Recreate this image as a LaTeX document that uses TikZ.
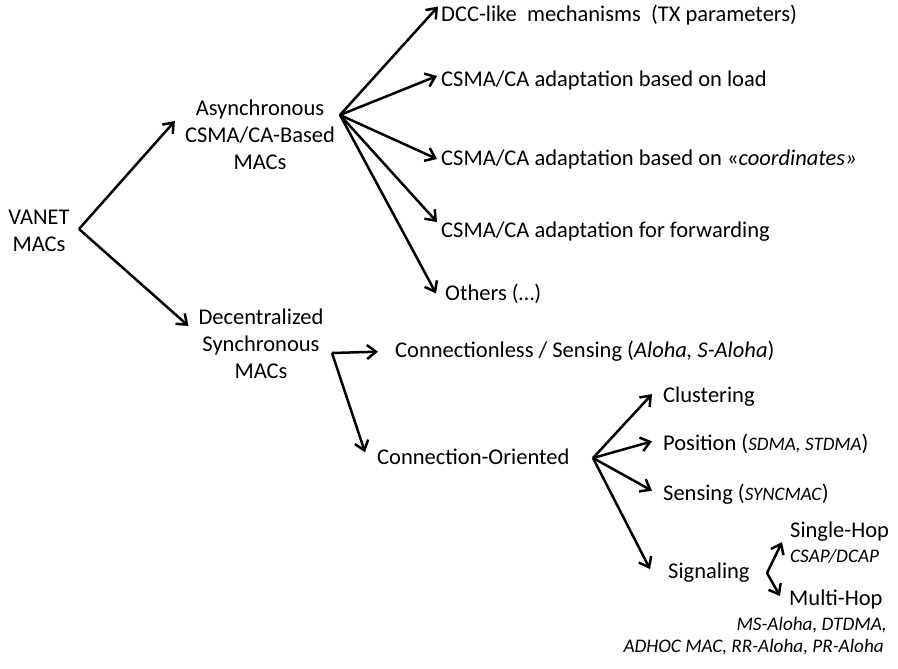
\documentclass[tikz,border=0pt]{standalone}
\usepackage{fontspec}
\setmainfont{Carlito}
\usetikzlibrary{arrows.meta,calc}
\begin{document}
\begin{tikzpicture}[x=1pt,y=-1pt,
  lbl/.style={inner sep=0pt,font=\fontsize{22.5}{27}\selectfont},
  ml/.style={lbl,align=center},
  sm/.style={inner sep=0pt,font=\fontsize{19.2}{22}\selectfont\itshape},
  arr/.style={line width=2.5pt,-{Straight Barb[length=9pt,width=14pt]}}]
\useasboundingbox (0,0) rectangle (898,669);

% tree levels
\node[ml] (vanet) at (39,231) {VANET\\MACs};
\node[ml] (async) at (260,135) {Asynchronous\\CSMA/CA-Based\\MACs};
\node[ml] (dec) at (261,344) {Decentralized\\Synchronous\\MACs};

% asynchronous branch
\node[lbl,anchor=base west] (dcc) at (441,22) {DCC-like\ \ mechanisms\ \ (TX parameters)};
\node[lbl,anchor=base west] (load) at (441,87) {CSMA/CA adaptation based on load};
\node[lbl,anchor=base west] (coord) at (441,165) {CSMA/CA adaptation based on «\textit{coordinates»}};
\node[lbl,anchor=base west] (fwd) at (441,237) {CSMA/CA adaptation for forwarding};
\node[lbl,anchor=base west] (oth) at (445,300) {Others (…)};

% synchronous branch
\node[lbl,anchor=base west] (cl) at (395,357) {Connectionless / Sensing (\textit{Aloha, S-Aloha})};
\node[lbl,anchor=base west] (co) at (377,464) {Connection-Oriented};
\node[lbl,anchor=base west] (clu) at (663,402) {Clustering};
\node[lbl,anchor=base west] (pos) at (663,450) {Position (\textit{\fontsize{19}{20}\selectfont SDMA, STDMA})};
\node[lbl,anchor=base west] (sen) at (663,500) {Sensing (\textit{\fontsize{19}{20}\selectfont SYNCMAC})};
\node[lbl,anchor=base west] (sig) at (668,578) {Signaling};
\node[lbl,anchor=base west] (sh) at (790,537) {Single-Hop};
\node[sm,anchor=base west] (csap) at (790,562) {CSAP/DCAP};
\node[lbl,anchor=base west] (mh) at (789,605) {Multi-Hop};
\node[sm,anchor=base east] (ms) at (887,630) {MS-Aloha, DTDMA,};
\node[sm,anchor=base east] (adh) at (884,652) {ADHOC MAC, RR-Aloha, PR-Aloha};

% branching points
\coordinate (jv) at (79,229);
\coordinate (ja) at (340,115);
\coordinate (jd) at (332,353);
\coordinate (jc) at (593,458);
\coordinate (js) at (767,573);

% connectors
\draw[arr] (jv) -- ($(async.west)+(-10,-14)$);
\draw[arr] (jv) -- ($(dec.north west)+(-10,17)$);

\draw[arr] (ja) -- ($(dcc.west)+(-3,-9)$);
\draw[arr] (ja) -- ($(load.west)+(-4,-5)$);
\draw[arr] (ja) -- ($(coord.west)+(-4,0)$);
\draw[arr] (ja) -- ($(fwd.west)+(-4,-9)$);
\draw[arr] (ja) -- ($(oth.west)+(-9,0)$);

\draw[arr] (jd) -- ($(cl.west)+(-17,1)$);
\draw[arr] (jd) -- ($(co.west)+(-12,-4)$);

\draw[arr] (jc) -- ($(clu.west)+(-11,-2)$);
\draw[arr] (jc) -- ($(pos.west)+(-11,-2)$);
\draw[arr] (jc) -- ($(sen.west)+(-11,-3)$);
\draw[arr] (jc) -- ($(sig.west)+(-18,-3)$);

\draw[arr] (js) -- ($(sh.west)+(-8,11)$);
\draw[arr] (js) -- ($(mh.west)+(-9,-3)$);
\end{tikzpicture}
\end{document}
